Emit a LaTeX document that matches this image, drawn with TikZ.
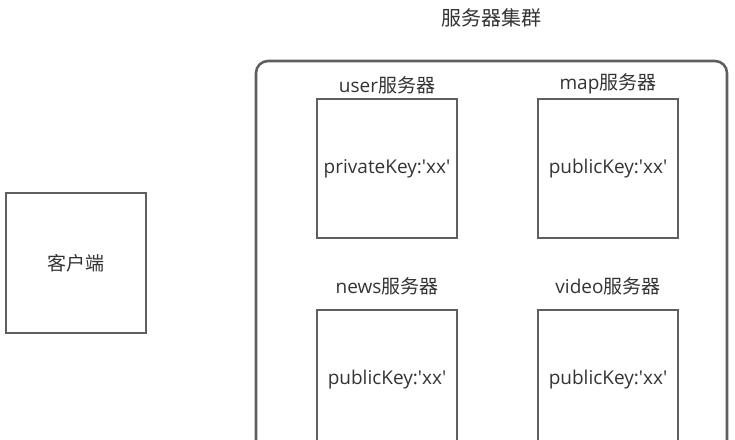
\documentclass[tikz,border=0pt]{standalone}
\usepackage{fontspec}
\setmainfont{Open Sans}
\newfontfamily\cjk{Noto Sans CJK SC}
\usetikzlibrary{positioning}
\definecolor{boxline}{HTML}{5F5F5F}
\definecolor{txt}{HTML}{333333}
\newcommand{\apos}{\textquotesingle}
\tikzset{
    srvbox/.style={draw=boxline, line width=2.6pt, minimum width=140pt, minimum height=139pt, inner sep=0pt},
    lbl/.style={text=txt, font=\fontsize{19}{22}\selectfont, inner sep=1pt}
}
\begin{document}
\begin{tikzpicture}[x=1pt, y=1pt, auto]
    \useasboundingbox (0,0) rectangle (735,439);
    \clip (0,0) rectangle (735,439);
    % server cluster frame
    \draw[boxline, line width=2.6pt, rounded corners=12pt] (256,378) rectangle (727,-30);
    \node[lbl, font=\fontsize{20}{23}\selectfont] (title) at (491,421) {\cjk 服务器集群};
    % client
    \node[srvbox, minimum height=140pt, lbl] (client) at (76,176) {\cjk 客户端};
    % servers
    \node[srvbox, lbl] (user) at (387,270.5) {privateKey:\apos xx\apos};
    \node[srvbox, lbl] (map) at (608,270.5) {publicKey:\apos xx\apos};
    \node[srvbox, lbl] (news) at (387,59.5) {publicKey:\apos xx\apos};
    \node[srvbox, lbl] (video) at (608,59.5) {publicKey:\apos xx\apos};
    \node[lbl, above=2pt of user] (userlbl) {user{\cjk 服务器}};
    \node[lbl, above=2pt of map] (maplbl) {map{\cjk 服务器}};
    \node[lbl, above=12pt of news] (newslbl) {news{\cjk 服务器}};
    \node[lbl, above=12pt of video] (videolbl) {video{\cjk 服务器}};
\end{tikzpicture}
\end{document}
